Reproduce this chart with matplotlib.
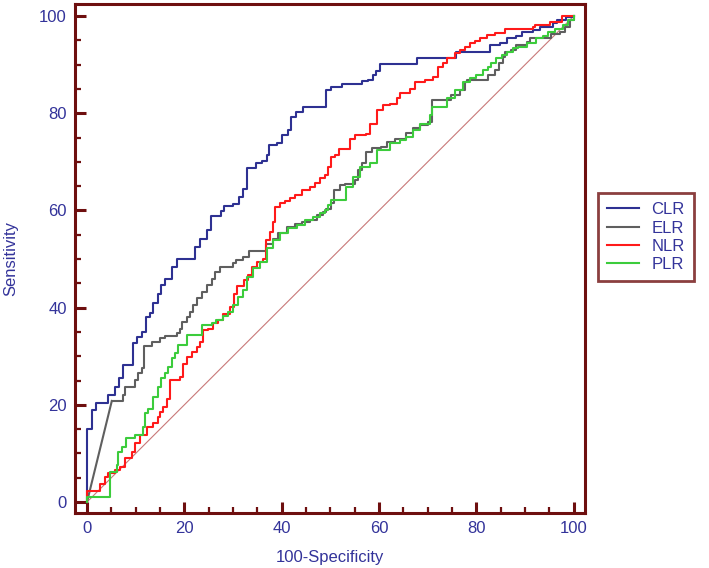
import matplotlib
matplotlib.use("Agg")
import matplotlib.pyplot as plt
from matplotlib.ticker import MultipleLocator

plt.rcParams["font.family"] = ["Liberation Sans", "DejaVu Sans"]

# ROC step points: (100-specificity where the curve rises, sensitivity after the rise)
clr_x = [0, 0, 1.1, 1.9, 4.4, 5.8, 6.5, 7.5, 9.5, 10.2, 11.2, 12.2, 12.9, 13.6, 14.6, 15.3, 16.1,
         17.4, 18.4, 22.2, 23.2, 24.6, 25.4, 27.6, 28.1, 30.1, 31.3, 32.0, 32.8, 34.8, 35.9, 36.9,
         37.4, 39.0, 40.0, 41.3, 42.0, 43.0, 44.4, 49.2, 50.2, 52.3, 56.4, 57.8, 58.8, 59.4, 60.2,
         67.8, 75.9, 82.8, 84.8, 86.2, 88.2, 89.3, 91.6, 93.0, 95.8, 96.5, 98.5, 100]
clr_y = [0, 15.0, 18.9, 20.3, 22.1, 23.7, 25.5, 28.2, 32.8, 34.0, 35.0, 38.1, 38.9, 40.9, 42.9, 44.7, 45.9,
         48.4, 50.1, 52.5, 54.2, 56.0, 58.8, 59.9, 60.9, 61.3, 62.8, 64.5, 68.7, 69.7, 70.1, 71.4,
         73.5, 73.8, 75.5, 76.5, 79.3, 80.3, 81.3, 84.8, 85.4, 86.0, 86.6, 86.9, 87.9, 88.8, 90.2,
         91.3, 92.6, 94.0, 94.4, 95.4, 95.9, 96.8, 97.1, 97.8, 98.5, 99.2, 99.9, 100]

# ELR starts with a tied segment (straight line) up to the first step point
elr_tie_x = [0, 5.1]
elr_tie_y = [0, 20.8]
elr_x = [5.1, 7.5, 7.8, 9.9, 10.5, 11.2, 11.7, 13.3, 15.0, 16.0, 18.4, 19.1, 19.6, 20.5, 21.2, 21.8,
         22.5, 23.6, 24.6, 25.6, 26.3, 27.3, 30.0, 30.7, 32.1, 33.3, 36.8, 38.3, 39.3, 41.0, 42.7,
         44.1, 45.8, 47.2, 48.5, 49.2, 50.2, 50.8, 51.9, 53.0, 55.0, 55.7, 56.4, 57.4, 58.5, 60.5,
         61.6, 63.2, 65.6, 67.0, 68.4, 70.1, 70.8, 74.8, 76.6, 77.6, 78.0, 82.4, 83.8, 84.7, 85.5,
         85.8, 87.2, 88.2, 90.3, 91.0, 95.4, 97.1, 98.2, 99.2, 100]
elr_y = [20.8, 22.0, 23.6, 25.1, 26.5, 27.5, 32.2, 33.0, 33.7, 34.2, 34.8, 35.7, 37.1, 38.1, 39.2, 40.5,
         41.9, 43.3, 44.7, 45.9, 47.4, 48.4, 49.1, 49.8, 50.5, 51.6, 53.2, 54.2, 55.3, 56.5, 57.2,
         57.7, 58.0, 59.1, 59.7, 60.4, 61.5, 64.2, 65.2, 65.4, 66.3, 68.3, 69.7, 72.1, 72.8, 73.1,
         74.1, 74.8, 75.9, 77.0, 77.6, 78.3, 82.7, 83.8, 84.8, 86.5, 86.8, 87.9, 88.9, 90.3, 91.6,
         92.7, 93.0, 94.0, 94.7, 95.4, 96.4, 96.8, 97.8, 99.1, 100]

nlr_x = [0, 0, 2.7, 3.7, 4.4, 5.7, 6.8, 7.8, 9.2, 9.9, 10.9, 12.3, 13.6, 14.6, 15.1, 15.7, 16.4, 17.1,
         19.1, 19.8, 20.5, 21.5, 22.5, 23.2, 23.9, 24.9, 25.9, 27.0, 28.0, 29.3, 30.2, 30.9, 32.3,
         33.0, 33.8, 34.9, 36.2, 36.7, 37.6, 38.3, 38.6, 39.6, 40.7, 41.7, 42.7, 44.1, 45.8, 46.9,
         47.8, 48.9, 49.6, 50.2, 50.9, 51.8, 54.0, 55.0, 57.4, 58.1, 59.5, 60.9, 62.2, 63.6, 64.3,
         66.3, 67.4, 69.4, 71.1, 72.1, 73.2, 73.9, 75.6, 76.6, 77.6, 78.6, 79.7, 80.7, 82.1, 83.8,
         85.8, 91.6, 92.0, 95.1, 97.5, 100]
nlr_y = [0, 2.3, 3.7, 5.1, 5.9, 6.6, 7.3, 9.0, 10.4, 12.1, 13.8, 15.5, 16.2, 17.6, 18.6, 19.6, 21.3, 25.1,
         25.8, 28.5, 29.9, 30.9, 32.0, 33.0, 35.4, 35.7, 36.8, 37.5, 38.8, 40.2, 42.9, 44.4, 45.6,
         46.8, 48.4, 49.4, 50.1, 53.9, 55.6, 57.7, 60.8, 61.5, 61.9, 62.5, 63.2, 64.2, 64.9, 65.6,
         66.6, 67.3, 69.0, 71.1, 71.4, 72.6, 74.8, 75.5, 75.8, 77.9, 80.7, 81.7, 82.0, 83.1, 84.1,
         85.1, 86.5, 86.8, 87.5, 89.6, 90.3, 91.3, 92.4, 93.0, 93.7, 94.4, 94.9, 95.4, 96.1, 96.6,
         97.3, 97.8, 98.1, 98.8, 100, 100]

plr_x = [0, 0, 4.7, 6.1, 6.4, 7.1, 8.1, 9.9, 11.6, 11.9, 12.6, 13.6, 14.6, 15.3, 16.0, 16.7, 17.4,
         18.1, 18.8, 20.5, 23.6, 25.6, 26.6, 28.0, 29.0, 30.0, 31.1, 32.1, 32.8, 34.2, 35.5, 36.9,
         38.3, 39.6, 41.3, 43.1, 44.8, 46.5, 47.8, 48.9, 49.6, 50.2, 53.3, 54.7, 56.1, 58.1, 59.5,
         62.2, 64.3, 65.6, 67.0, 68.4, 70.4, 70.8, 73.9, 75.6, 77.3, 78.6, 80.0, 81.4, 82.4, 83.1,
         84.1, 85.2, 86.2, 87.6, 88.6, 90.3, 92.3, 93.7, 94.7, 96.1, 97.8, 98.8, 100]
plr_y = [0, 1.1, 6.2, 7.6, 10.4, 11.4, 13.1, 13.8, 15.5, 18.3, 19.2, 21.7, 23.7, 25.5, 26.5, 27.8, 29.6,
         30.6, 32.3, 34.4, 36.4, 36.8, 37.5, 38.3, 39.2, 40.5, 42.2, 43.6, 46.4, 48.1, 49.4, 52.2,
         53.9, 55.3, 56.3, 57.0, 58.0, 58.7, 59.4, 60.1, 61.1, 62.1, 64.9, 66.9, 69.0, 69.7, 72.4,
         73.8, 74.5, 75.2, 76.5, 77.9, 79.6, 81.3, 83.1, 84.8, 86.5, 87.2, 87.9, 88.9, 89.6, 90.3,
         91.3, 92.0, 92.7, 93.4, 93.7, 94.4, 95.4, 96.0, 96.8, 97.4, 98.1, 99.2, 100]

maroon = "#6e0f0f"
txt_blue = "#33339a"

fig = plt.figure(figsize=(7.09, 5.68), dpi=100)
ax = fig.add_axes([0.1058, 0.0968, 0.7192, 0.8962])

# reference diagonal
ax.plot([0, 100], [0, 100], color="#c87878", lw=0.8, zorder=1)

ax.plot(clr_x, clr_y, drawstyle="steps-post", color="#2e3192", lw=1.5, label="CLR")
ax.plot(elr_tie_x, elr_tie_y, color="#5f5f5f", lw=1.5)
ax.plot(elr_x, elr_y, drawstyle="steps-post", color="#5f5f5f", lw=1.5, label="ELR")
ax.plot(nlr_x, nlr_y, drawstyle="steps-post", color="#ff1a1a", lw=1.5, label="NLR")
ax.plot(plr_x, plr_y, drawstyle="steps-post", color="#3ccc3c", lw=1.5, label="PLR")

ax.set_xlim(-2.46, 102.3)
ax.set_ylim(-2.26, 102.5)

for s in ax.spines.values():
    s.set_color(maroon)
    s.set_linewidth(2.2)

ax.xaxis.set_major_locator(MultipleLocator(20))
ax.xaxis.set_minor_locator(MultipleLocator(5))
ax.yaxis.set_major_locator(MultipleLocator(20))
ax.yaxis.set_minor_locator(MultipleLocator(5))
ax.tick_params(which="both", direction="in", color=maroon, top=False, right=False)
ax.tick_params(which="major", length=8, width=2.2, labelsize=12, labelcolor=txt_blue, pad=6)
ax.tick_params(which="minor", length=4.5, width=1.6)

ax.set_xlabel("100-Specificity", fontsize=12, color=txt_blue)
ax.set_ylabel("Sensitivity", fontsize=12, color=txt_blue)
ax.xaxis.set_label_coords(0.5, -0.072)
ax.yaxis.set_label_coords(-0.112, 0.5)

leg = ax.legend(loc="upper left", bbox_to_anchor=(0.8434, 0.660), bbox_transform=fig.transFigure,
                fontsize=12, labelcolor=txt_blue, fancybox=False, borderaxespad=0,
                handlelength=1.9, labelspacing=0.2, borderpad=0.55, handletextpad=0.75)
leg.get_frame().set_edgecolor(maroon)
leg.get_frame().set_linewidth(2.0)

fig.savefig("out.png", dpi=100)
